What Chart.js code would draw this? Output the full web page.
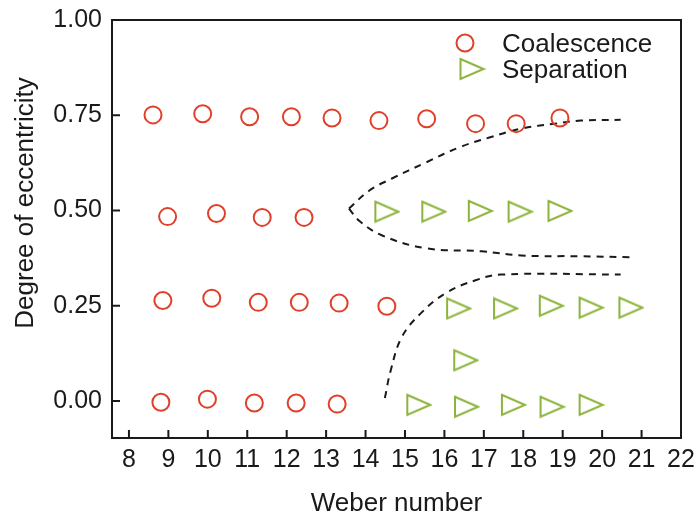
<!DOCTYPE html>
<html>
<head>
<meta charset="utf-8">
<script src="https://cdn.jsdelivr.net/npm/chart.js@4"></script>
<style>
  body { margin: 0; background: #fff; }
  #wrap { width: 700px; height: 519px; }
</style>
</head>
<body>
<div id="wrap"><canvas id="chart"></canvas></div>
<script>
'use strict';

// Coalescence points (red circles), rows at e = 0.75, 0.5, 0.25, 0
let coalX = [8.61, 9.87, 11.06, 12.12, 13.15, 14.34, 15.55, 16.79, 17.82, 18.93,
             8.98, 10.22, 11.38, 12.44,
             8.86, 10.10, 11.28, 12.32, 13.33, 14.54,
             8.81, 9.99, 11.18, 12.24, 13.28];
let coalY = [0.751, 0.754, 0.746, 0.746, 0.743, 0.736, 0.741, 0.728, 0.728, 0.743,
             0.484, 0.492, 0.482, 0.482,
             0.264, 0.270, 0.259, 0.259, 0.257, 0.249,
             -0.003, 0.005, -0.005, -0.005, -0.008];

// Separation points (green triangles)
let sepX = [14.54, 15.73, 16.91, 17.92, 18.93,
            16.36, 17.55, 18.71, 19.72, 20.73,
            16.54,
            15.35, 16.56, 17.75, 18.73, 19.72];
let sepY = [0.497, 0.497, 0.499, 0.497, 0.499,
            0.243, 0.243, 0.250, 0.245, 0.245,
            0.107,
            -0.010, -0.015, -0.010, -0.015, -0.010];

// dashed regime boundaries
let upperX = [13.58, 14.09, 14.67, 15.53, 16.36, 17.12, 17.95, 18.81, 19.46, 20.47];
let upperY = [0.505, 0.552, 0.584, 0.626, 0.665, 0.691, 0.715, 0.728, 0.736, 0.738];
let middleX = [13.58, 13.83, 14.41, 15.53, 16.94, 17.95, 19.46, 20.83];
let middleY = [0.505, 0.474, 0.435, 0.401, 0.393, 0.382, 0.380, 0.377];
let lowerX = [14.49, 14.64, 14.92, 15.40, 16.03, 16.79, 17.44, 20.47];
let lowerY = [0.008, 0.081, 0.168, 0.230, 0.283, 0.317, 0.332, 0.332];

let xTicks = [8, 9, 10, 11, 12, 13, 14, 15, 16, 17, 18, 19, 20, 21, 22];
let yTicks = [0, 0.25, 0.5, 0.75, 1];
let yTickLabels = ['0.00', '0.25', '0.50', '0.75', '1.00'];

let seriesNames = ['Coalescence', 'Separation'];

const red = '#e0402a';
const green = '#8cb43c';
const ink = '#1a1a1a';
const fontFamily = "'Liberation Sans', Arial, sans-serif";

function toPoints(xs, ys) {
  let pts = [];
  for (let i = 0; i < xs.length; i++) {
    pts.push({x: xs[i], y: ys[i]});
  }
  return pts;
}

// open triangle pointing right, used as the Separation marker
function makeTriangle() {
  let c = document.createElement('canvas');
  c.width = 27;
  c.height = 24;
  let g = c.getContext('2d');
  g.strokeStyle = green;
  g.lineWidth = 2;
  g.beginPath();
  g.moveTo(2, 2);
  g.lineTo(25, 12);
  g.lineTo(2, 22);
  g.closePath();
  g.stroke();
  return c;
}
let triangle = makeTriangle();

function boundary(xs, ys) {
  return {
    data: toPoints(xs, ys),
    showLine: true,
    borderColor: ink,
    borderWidth: 2,
    borderDash: [7, 6],
    pointRadius: 0,
    tension: 0.4
  };
}

// frame, inward ticks, y title and legend drawn over the chart
const framePlugin = {
  id: 'frame',
  afterDraw(chart) {
    const ctx = chart.ctx;
    const a = chart.chartArea;
    const sx = chart.scales.x;
    const sy = chart.scales.y;
    ctx.save();
    ctx.strokeStyle = ink;
    ctx.lineWidth = 2;
    ctx.strokeRect(a.left, a.top, a.right - a.left, a.bottom - a.top);

    ctx.beginPath();
    xTicks.forEach(v => {
      let px = sx.getPixelForValue(v);
      ctx.moveTo(px, a.bottom);
      ctx.lineTo(px, a.bottom - 8);
    });
    yTicks.forEach(v => {
      let py = sy.getPixelForValue(v);
      ctx.moveTo(a.left, py);
      ctx.lineTo(a.left + 8, py);
    });
    ctx.stroke();

    // y axis title
    ctx.fillStyle = ink;
    ctx.font = '26px ' + fontFamily;
    ctx.textAlign = 'center';
    ctx.textBaseline = 'alphabetic';
    ctx.translate(33, 203);
    ctx.rotate(-Math.PI / 2);
    ctx.fillText('Degree of eccentricity', 0, 0);
    ctx.setTransform(chart.currentDevicePixelRatio, 0, 0, chart.currentDevicePixelRatio, 0, 0);

    // legend
    ctx.strokeStyle = red;
    ctx.lineWidth = 2;
    ctx.beginPath();
    ctx.arc(465, 43, 8.5, 0, Math.PI * 2);
    ctx.stroke();
    ctx.drawImage(triangle, 472 - triangle.width / 2, 69 - triangle.height / 2);
    ctx.textAlign = 'left';
    ctx.fillText(seriesNames[0], 502, 52);
    ctx.fillText(seriesNames[1], 502, 78);
    ctx.restore();
  }
};

function renderChart() {
  const canvasElem = document.getElementById('chart');

  let config = {
    type: 'scatter',
    data: {
      datasets: [
        {
          label: seriesNames[0],
          data: toPoints(coalX, coalY),
          pointStyle: 'circle',
          pointRadius: 8.5,
          pointBorderWidth: 2,
          borderColor: red,
          backgroundColor: 'rgba(0,0,0,0)'
        },
        {
          label: seriesNames[1],
          data: toPoints(sepX, sepY),
          pointStyle: triangle,
          pointRadius: 12
        },
        boundary(upperX, upperY),
        boundary(middleX, middleY),
        boundary(lowerX, lowerY)
      ]
    },
    options: {
      responsive: true,
      maintainAspectRatio: false,
      animation: false,
      layout: { padding: { top: 20, right: 19, left: 0, bottom: 0 } },
      plugins: {
        legend: { display: false },
        tooltip: { enabled: false }
      },
      scales: {
        x: {
          type: 'linear',
          min: 7.57,
          max: 22,
          afterFit(scale) {
            scale.height = 81;
            scale.paddingLeft = 0;
            scale.paddingRight = 0;
          },
          afterBuildTicks(scale) { scale.ticks = xTicks.map(v => ({value: v})); },
          grid: { display: false, drawTicks: false },
          border: { display: false },
          ticks: {
            padding: 7,
            color: ink,
            font: { family: fontFamily, size: 25 },
            maxRotation: 0,
            autoSkip: false,
            callback: v => String(v)
          },
          title: {
            display: true,
            text: 'Weber number',
            color: ink,
            font: { family: fontFamily, size: 26 },
            padding: { top: 0, bottom: 0 }
          }
        },
        y: {
          type: 'linear',
          min: -0.097,
          max: 1,
          afterFit(scale) {
            scale.width = 112;
            scale.paddingTop = 0;
            scale.paddingBottom = 0;
          },
          afterBuildTicks(scale) { scale.ticks = yTicks.map(v => ({value: v})); },
          grid: { display: false, drawTicks: false },
          border: { display: false },
          ticks: {
            padding: 10,
            color: ink,
            font: { family: fontFamily, size: 25 },
            callback: (v, i) => yTickLabels[yTicks.indexOf(v)]
          }
        }
      }
    },
    plugins: [framePlugin]
  };

  new Chart(canvasElem, config);
}
renderChart();
</script>
</body>
</html>
